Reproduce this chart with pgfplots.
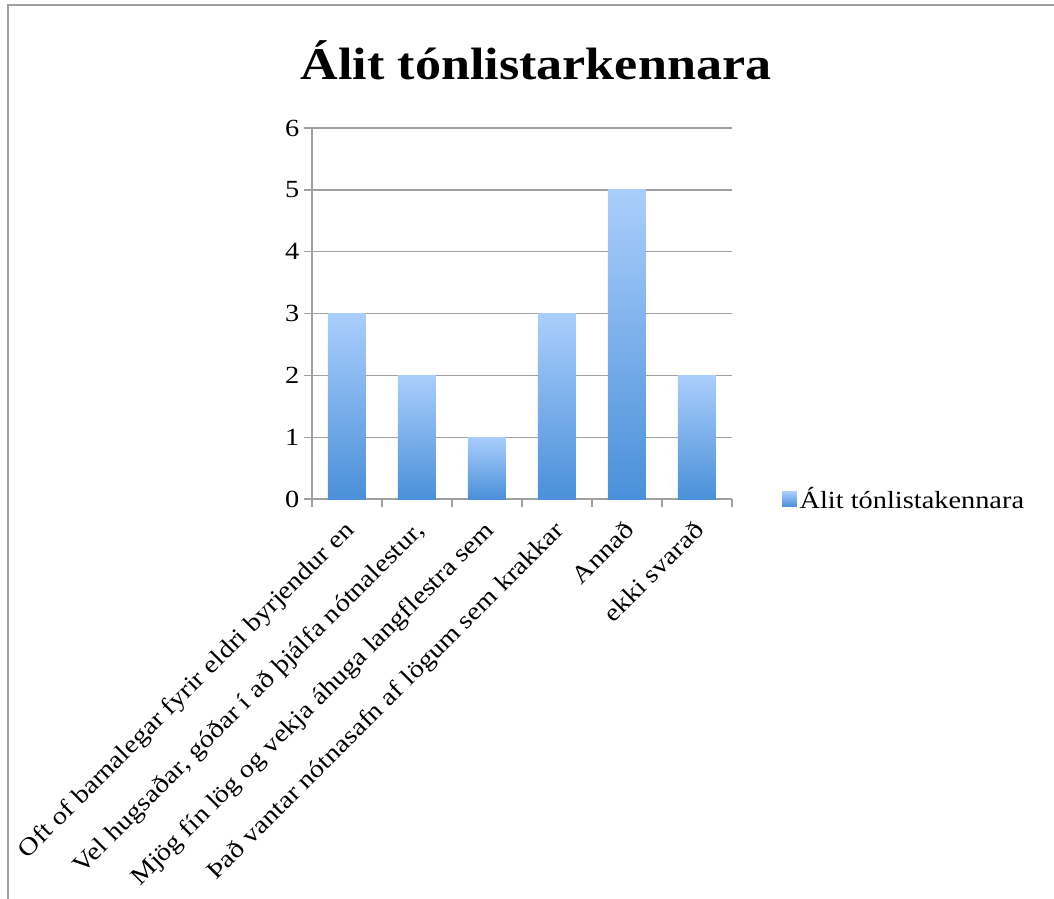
\documentclass[border=0pt]{standalone}
\usepackage{pgfplots}
\pgfplotsset{compat=1.18}
\usepackage{fontspec}
\setmainfont[FakeStretch=1.15]{Liberation Serif}
\definecolor{gridgray}{RGB}{160,160,160}
\definecolor{bartop}{RGB}{170,206,252}
\definecolor{barbot}{RGB}{74,144,217}
\begin{document}
\begin{tikzpicture}
\path[use as bounding box] (0,0) rectangle (790.5pt,-674.25pt);
\draw[gridgray, line width=1.4pt] (6pt,-674.25pt) -- (6pt,-4pt) -- (790.5pt,-4pt);
\node[font=\bfseries\fontsize{34}{40}\selectfont, anchor=base] at (402pt,-60pt) {Álit tónlistarkennara};
\begin{axis}[
  at={(234pt,-374.25pt)}, anchor=south west,
  scale only axis, width=315pt, height=278.25pt,
  ymin=0, ymax=6, ytick={0,...,6},
  xmin=-0.5, xmax=5.5,
  xtick={0,...,5},
  xticklabels={{Oft of barnalegar fyrir eldri byrjendur en},{Vel hugsaðar, góðar í að þjálfa nótnalestur,},{Mjög fín lög og vekja áhuga langflestra sem},{Það vantar nótnasafn af lögum sem krakkar},{Annað},{ekki svarað}},
  minor xtick={-0.5,0.5,...,5.5},
  axis x line*=bottom, axis y line*=left,
  axis line style={gridgray, line width=1pt},
  ymajorgrids, grid style={gridgray, line width=1pt},
  tick align=outside,
  major tick length=6pt, minor tick length=6pt,
  tick style={gridgray, line width=1pt},
  major x tick style={draw=none},
  no markers,
  yticklabel style={font=\fontsize{18.5}{20}\selectfont},
  xticklabel style={font=\fontsize{18.5}{20}\selectfont, inner sep=0pt, anchor=north east, xshift=-3pt, yshift=-9pt, rotate=45},
  /pgf/number format/assume math mode=true,
  legend style={draw=none, fill=none, at={(1.119,0)}, anchor=west, inner sep=0pt, font=\fontsize{18.5}{20}\selectfont},
  legend cell align=left,
  every axis plot/.append style={ybar, bar shift=0pt, bar width=28.5pt, draw=none, top color=bartop, bottom color=barbot,
    legend image code/.code={\shade[top color=bartop, bottom color=barbot] (0pt,-5.5pt) rectangle (11pt,5.5pt);}},
]
\addplot[mark=none] coordinates {(0,3)};
\addlegendentry{Álit tónlistakennara}
\addplot[forget plot] coordinates {(1,2)};
\addplot[forget plot] coordinates {(2,1)};
\addplot[forget plot] coordinates {(3,3)};
\addplot[forget plot] coordinates {(4,5)};
\addplot[forget plot] coordinates {(5,2)};
\end{axis}
\end{tikzpicture}
\end{document}
